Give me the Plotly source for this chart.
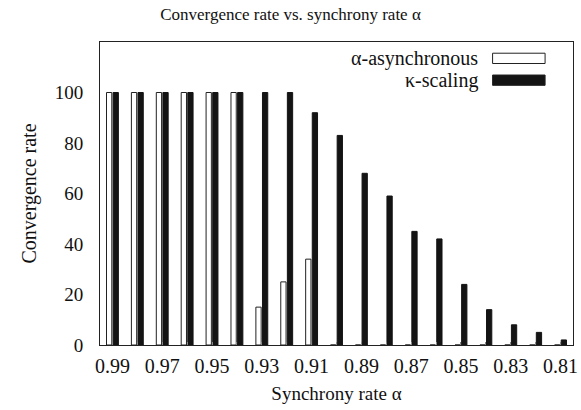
import plotly.graph_objects as go

categories = ["0.99", "0.98", "0.97", "0.96", "0.95", "0.94", "0.93", "0.92", "0.91", "0.90",
              "0.89", "0.88", "0.87", "0.86", "0.85", "0.84", "0.83", "0.82", "0.81"]
tick_labels = [c if i % 2 == 0 else "" for i, c in enumerate(categories)]
alpha_async = [100, 100, 100, 100, 100, 100, 15, 25, 34, 0, 0, 0, 0, 0, 0, 0, 0, 0, 0]
kappa_scaling = [100, 100, 100, 100, 100, 100, 100, 100, 92, 83, 68, 59, 45, 42, 24, 14, 8, 5, 2]

FONT = "Liberation Serif"

fig = go.Figure()
fig.add_trace(go.Bar(x=categories, y=alpha_async, name="α-asynchronous",
                     marker=dict(color="white", line=dict(color="#222", width=1))))
fig.add_trace(go.Bar(x=categories, y=kappa_scaling, name="κ-scaling",
                     marker=dict(color="#141414", line=dict(color="#141414", width=1))))

# gnuplot-style key: right-aligned text with swatch on the right
legend_items = [("α-asynchronous", "white"), ("κ-scaling", "#141414")]
for i, (label, col) in enumerate(legend_items):
    yc = 0.946 - i * 0.072
    fig.add_annotation(xref="paper", yref="paper", x=0.803, y=yc, text=label,
                       showarrow=False, xanchor="right", yanchor="middle",
                       font=dict(family=FONT, size=20, color="#111"))
    fig.add_shape(type="rect", xref="paper", yref="paper",
                  x0=0.830, x1=0.941, y0=yc - 0.017, y1=yc + 0.017,
                  fillcolor=col, line=dict(color="#222", width=1))

fig.update_layout(
    width=581, height=410,
    margin=dict(l=100, r=3, t=42, b=65),
    paper_bgcolor="white", plot_bgcolor="white",
    barmode="group", bargap=0.47, bargroupgap=0.2,
    showlegend=False,
    font=dict(family=FONT, size=20, color="#111"),
    title=dict(text="Convergence rate vs. synchrony rate α", x=0.5, xanchor="center",
               y=0.965, yanchor="middle", font=dict(family=FONT, size=17, color="#111")),
)
fig.update_xaxes(
    type="category", categoryorder="array", categoryarray=categories,
    tickmode="array", tickvals=categories, ticktext=tick_labels,
    ticks="inside", ticklen=3, tickcolor="#888", tickwidth=1,
    ticklabelstandoff=3,
    showline=True, linecolor="#222", linewidth=1, mirror=True,
    showgrid=False, zeroline=False,
    title=dict(text="Synchrony rate α", font=dict(family=FONT, size=19), standoff=10),
    tickfont=dict(family=FONT, size=20),
)
fig.update_yaxes(
    range=[0, 120], tickmode="array", tickvals=[0, 20, 40, 60, 80, 100],
    ticks="", ticklabelstandoff=12,
    showline=True, linecolor="#222", linewidth=1, mirror=True,
    showgrid=False, zeroline=False,
    title=dict(text="Convergence rate", font=dict(family=FONT, size=20), standoff=12),
    tickfont=dict(family=FONT, size=19),
)

fig.write_html("out.html")
